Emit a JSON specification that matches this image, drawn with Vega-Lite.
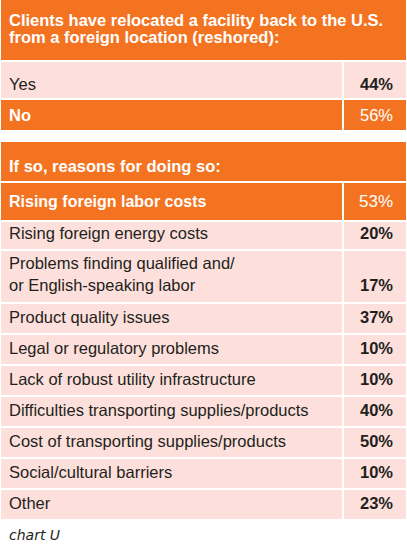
{
  "$schema": "https://vega.github.io/schema/vega-lite/v6.json",
  "description": "Reshoring survey table: share of clients and reasons",
  "padding": {"left": 1, "top": 0, "right": 0, "bottom": 0},
  "title": {
    "text": "chart U",
    "orient": "bottom",
    "anchor": "start",
    "font": "DejaVu Sans",
    "fontSize": 14,
    "fontStyle": "italic",
    "fontWeight": "normal",
    "color": "#231f20",
    "offset": 10,
    "dx": 8
  },
  "config": {
    "view": {"stroke": null},
    "scale": {"bandPaddingInner": 0, "bandPaddingOuter": 0},
    "text": {"font": "Liberation Sans", "fontSize": 16.5, "baseline": "alphabetic", "lineBreak": "\n"}
  },
  "datasets": {
    "headings": [
      {"heading": "Clients have relocated a facility back to the U.S.\nfrom a foreign location (reshored):"},
      {"heading": "If so, reasons for doing so:"}
    ],
    "reshored": [
      {"answer": "Yes", "share": 0.44},
      {"answer": "No", "share": 0.56}
    ],
    "reasons": [
      {"reason": "Rising foreign labor costs", "share": 0.53},
      {"reason": "Rising foreign energy costs", "share": 0.20},
      {"reason": "Problems finding qualified and/\nor English-speaking labor", "share": 0.17},
      {"reason": "Product quality issues", "share": 0.37},
      {"reason": "Legal or regulatory problems", "share": 0.10},
      {"reason": "Lack of robust utility infrastructure", "share": 0.10},
      {"reason": "Difficulties transporting supplies/products", "share": 0.40},
      {"reason": "Cost of transporting supplies/products", "share": 0.50},
      {"reason": "Social/cultural barriers", "share": 0.10},
      {"reason": "Other", "share": 0.23}
    ]
  },
  "spacing": 12,
  "vconcat": [
    {
      "spacing": 2,
      "vconcat": [
        {
          "width": 405,
          "height": 60,
          "data": {"name": "headings"},
          "transform": [{"window": [{"op": "row_number", "as": "rank"}]}, {"filter": "datum.rank === 1"}],
          "encoding": {"y": {"field": "heading", "type": "nominal", "axis": null, "bandPosition": 0}},
          "layer": [
            {"mark": {"type": "rect", "fill": "#f37321"}},
            {
              "mark": {"type": "text", "align": "left", "x": 0, "dx": 8, "dy": 26, "lineHeight": 17, "fontWeight": "bold", "color": "white"},
              "encoding": {"text": {"field": "heading", "type": "nominal"}}
            }
          ]
        },
        {
          "spacing": 2,
          "hconcat": [
            {
              "width": 341,
              "height": 36,
              "data": {"name": "reshored"},
              "transform": [{"filter": "datum.answer === 'Yes'"}],
              "encoding": {"y": {"field": "answer", "type": "nominal", "axis": null, "bandPosition": 1}},
              "layer": [
                {"mark": {"type": "rect", "fill": "#fde0dc"}},
                {
                  "mark": {"type": "text", "align": "left", "x": 0, "dx": 8, "dy": -8, "color": "#231f20"},
                  "encoding": {"text": {"field": "answer", "type": "nominal"}}
                }
              ]
            },
            {
              "width": 62,
              "height": 36,
              "data": {"name": "reshored"},
              "transform": [{"filter": "datum.answer === 'Yes'"}],
              "encoding": {"y": {"field": "answer", "type": "nominal", "axis": null, "bandPosition": 1}},
              "layer": [
                {"mark": {"type": "rect", "fill": "#fde0dc"}},
                {
                  "mark": {"type": "text", "align": "right", "x": "width", "dx": -13, "dy": -8, "fontWeight": "bold", "color": "#231f20"},
                  "encoding": {"text": {"field": "share", "type": "quantitative", "format": ".0%"}}
                }
              ]
            }
          ]
        },
        {
          "spacing": 2,
          "hconcat": [
            {
              "width": 341,
              "height": 30,
              "data": {"name": "reshored"},
              "transform": [{"filter": "datum.answer === 'No'"}],
              "encoding": {"y": {"field": "answer", "type": "nominal", "axis": null, "bandPosition": 1}},
              "layer": [
                {"mark": {"type": "rect", "fill": "#f37321"}},
                {
                  "mark": {"type": "text", "align": "left", "x": 0, "dx": 8, "dy": -9, "fontWeight": "bold", "color": "white"},
                  "encoding": {"text": {"field": "answer", "type": "nominal"}}
                }
              ]
            },
            {
              "width": 62,
              "height": 30,
              "data": {"name": "reshored"},
              "transform": [{"filter": "datum.answer === 'No'"}],
              "encoding": {"y": {"field": "answer", "type": "nominal", "axis": null, "bandPosition": 1}},
              "layer": [
                {"mark": {"type": "rect", "fill": "#f37321"}},
                {
                  "mark": {"type": "text", "align": "right", "x": "width", "dx": -13, "dy": -9, "color": "white"},
                  "encoding": {"text": {"field": "share", "type": "quantitative", "format": ".0%"}}
                }
              ]
            }
          ]
        }
      ]
    },
    {
      "spacing": 2,
      "vconcat": [
        {
          "width": 405,
          "height": 39,
          "data": {"name": "headings"},
          "transform": [{"window": [{"op": "row_number", "as": "rank"}]}, {"filter": "datum.rank === 2"}],
          "encoding": {"y": {"field": "heading", "type": "nominal", "axis": null, "bandPosition": 1}},
          "layer": [
            {"mark": {"type": "rect", "fill": "#f37321"}},
            {
              "mark": {"type": "text", "align": "left", "x": 0, "dx": 8, "dy": -9, "fontWeight": "bold", "color": "white"},
              "encoding": {"text": {"field": "heading", "type": "nominal"}}
            }
          ]
        },
        {
          "spacing": 2,
          "hconcat": [
            {
              "width": 341,
              "height": 37,
              "data": {"name": "reasons"},
              "transform": [{"window": [{"op": "row_number", "as": "rank"}]}, {"filter": "datum.rank === 1"}],
              "encoding": {"y": {"field": "reason", "type": "nominal", "axis": null, "bandPosition": 1}},
              "layer": [
                {"mark": {"type": "rect", "fill": "#f37321"}},
                {
                  "mark": {"type": "text", "align": "left", "x": 0, "dx": 8, "dy": -13, "fontSize": 16, "fontWeight": "bold", "color": "white"},
                  "encoding": {"text": {"field": "reason", "type": "nominal"}}
                }
              ]
            },
            {
              "width": 62,
              "height": 37,
              "data": {"name": "reasons"},
              "transform": [{"window": [{"op": "row_number", "as": "rank"}]}, {"filter": "datum.rank === 1"}],
              "encoding": {"y": {"field": "reason", "type": "nominal", "axis": null, "bandPosition": 1}},
              "layer": [
                {"mark": {"type": "rect", "fill": "#f37321"}},
                {
                  "mark": {"type": "text", "align": "right", "x": "width", "dx": -13, "dy": -13, "fontSize": 17, "color": "white"},
                  "encoding": {"text": {"field": "share", "type": "quantitative", "format": ".0%"}}
                }
              ]
            }
          ]
        },
        {
          "spacing": 2,
          "hconcat": [
            {
              "width": 341,
              "height": 27,
              "data": {"name": "reasons"},
              "transform": [{"window": [{"op": "row_number", "as": "rank"}]}, {"filter": "datum.rank === 2"}],
              "encoding": {"y": {"field": "reason", "type": "nominal", "axis": null, "bandPosition": 1}},
              "layer": [
                {"mark": {"type": "rect", "fill": "#fde0dc"}},
                {
                  "mark": {"type": "text", "align": "left", "x": 0, "dx": 8, "dy": -10, "color": "#231f20"},
                  "encoding": {"text": {"field": "reason", "type": "nominal"}}
                }
              ]
            },
            {
              "width": 62,
              "height": 27,
              "data": {"name": "reasons"},
              "transform": [{"window": [{"op": "row_number", "as": "rank"}]}, {"filter": "datum.rank === 2"}],
              "encoding": {"y": {"field": "reason", "type": "nominal", "axis": null, "bandPosition": 1}},
              "layer": [
                {"mark": {"type": "rect", "fill": "#fde0dc"}},
                {
                  "mark": {"type": "text", "align": "right", "x": "width", "dx": -13, "dy": -10, "fontWeight": "bold", "color": "#231f20"},
                  "encoding": {"text": {"field": "share", "type": "quantitative", "format": ".0%"}}
                }
              ]
            }
          ]
        },
        {
          "spacing": 2,
          "hconcat": [
            {
              "width": 341,
              "height": 51,
              "data": {"name": "reasons"},
              "transform": [{"window": [{"op": "row_number", "as": "rank"}]}, {"filter": "datum.rank === 3"}],
              "encoding": {"y": {"field": "reason", "type": "nominal", "axis": null, "bandPosition": 1}},
              "layer": [
                {"mark": {"type": "rect", "fill": "#fde0dc"}},
                {
                  "mark": {"type": "text", "align": "left", "x": 0, "dx": 8, "dy": -33, "lineHeight": 22, "color": "#231f20"},
                  "encoding": {"text": {"field": "reason", "type": "nominal"}}
                }
              ]
            },
            {
              "width": 62,
              "height": 51,
              "data": {"name": "reasons"},
              "transform": [{"window": [{"op": "row_number", "as": "rank"}]}, {"filter": "datum.rank === 3"}],
              "encoding": {"y": {"field": "reason", "type": "nominal", "axis": null, "bandPosition": 1}},
              "layer": [
                {"mark": {"type": "rect", "fill": "#fde0dc"}},
                {
                  "mark": {"type": "text", "align": "right", "x": "width", "dx": -13, "dy": -11, "fontWeight": "bold", "color": "#231f20"},
                  "encoding": {"text": {"field": "share", "type": "quantitative", "format": ".0%"}}
                }
              ]
            }
          ]
        },
        {
          "spacing": 2,
          "hconcat": [
            {
              "width": 341,
              "height": 215,
              "data": {"name": "reasons"},
              "transform": [{"window": [{"op": "row_number", "as": "rank"}]}, {"filter": "datum.rank > 3"}],
              "encoding": {"y": {"field": "reason", "type": "nominal", "sort": null, "axis": null, "bandPosition": 1, "scale": {"paddingInner": 0.0645, "paddingOuter": 0}}},
              "layer": [
                {"mark": {"type": "rect", "fill": "#fde0dc"}},
                {
                  "mark": {"type": "text", "align": "left", "x": 0, "dx": 8, "dy": -10, "color": "#231f20"},
                  "encoding": {"text": {"field": "reason", "type": "nominal"}}
                }
              ]
            },
            {
              "width": 62,
              "height": 215,
              "data": {"name": "reasons"},
              "transform": [{"window": [{"op": "row_number", "as": "rank"}]}, {"filter": "datum.rank > 3"}],
              "encoding": {"y": {"field": "reason", "type": "nominal", "sort": null, "axis": null, "bandPosition": 1, "scale": {"paddingInner": 0.0645, "paddingOuter": 0}}},
              "layer": [
                {"mark": {"type": "rect", "fill": "#fde0dc"}},
                {
                  "mark": {"type": "text", "align": "right", "x": "width", "dx": -13, "dy": -10, "fontWeight": "bold", "color": "#231f20"},
                  "encoding": {"text": {"field": "share", "type": "quantitative", "format": ".0%"}}
                }
              ]
            }
          ]
        }
      ]
    }
  ]
}
